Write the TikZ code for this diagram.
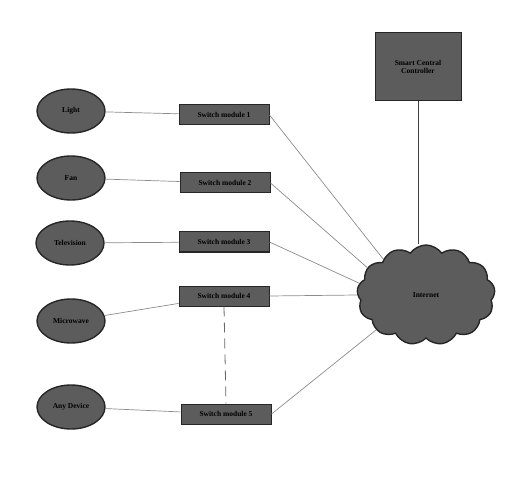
\documentclass[tikz,border=0pt]{standalone}
\usepackage{fontspec}
\setmainfont{Liberation Serif}
\usetikzlibrary{shapes.geometric,shapes.symbols}
\begin{document}
\begin{tikzpicture}[x=1pt,y=-1pt,
  dev/.style={ellipse,draw=black!85,line width=1.4pt,fill=black!64,minimum width=68pt,minimum height=44pt,inner sep=0pt,font=\fontsize{7.5}{8}\selectfont\bfseries},
  swbox/.style={rectangle,draw=black!85,line width=1pt,fill=black!64,minimum width=90pt,minimum height=20pt,inner sep=0pt,font=\fontsize{7.5}{8}\selectfont\bfseries},
  link/.style={draw=black!45,line width=0.7pt},
  dlink/.style={draw=black!60,line width=0.8pt,dash pattern=on 10pt off 6pt}]
\useasboundingbox (0,0) rectangle (528,484);
\node[dev] (light) at (71,111) {Light};
\node[dev] (fan) at (71,178) {Fan};
\node[dev] (tv) at (70,243) {Television};
\node[dev] (mw) at (71,321) {Microwave};
\node[dev] (any) at (71,407) {Any Device};
\node[swbox] (s1) at (224,115) {Switch module 1};
\node[swbox] (s2) at (225,183) {Switch module 2};
\node[swbox] (s3) at (224,242) {Switch module 3};
\node[swbox] (s4) at (224,296) {Switch module 4};
\node[swbox] (s5) at (226,414) {Switch module 5};
\node[rectangle,draw=black!85,line width=1pt,fill=black!64,minimum width=86pt,minimum height=68pt,inner sep=2pt,align=center,font=\fontsize{7.5}{8.5}\selectfont\bfseries] (ctrl) at (418,67) {Smart Central\\Controller};
\node[cloud,cloud puffs=13,cloud puff arc=110,aspect=1.45,draw=black!85,line width=1.4pt,fill=black!64,minimum width=138pt,minimum height=100pt,inner sep=0pt,font=\fontsize{7.5}{8}\selectfont\bfseries] (net) at (426,295) {Internet};
\draw[link] (light) -- (s1);
\draw[link] (fan) -- (s2);
\draw[link] (tv) -- (s3);
\draw[link] (mw) -- (s4);
\draw[link] (any) -- (s5);
\draw[link] (s1.east) -- (net.140);
\draw[link] (s2.east) -- (net.155);
\draw[link] (s3.east) -- (net.170);
\draw[link] (s4.east) -- (net.180);
\draw[link] (s5.east) -- (net.215);
\draw[link,draw=black!75] (ctrl.south) -- (net.north -| ctrl.south);
\draw[dlink] (s4.south) -- (s5.north);
\end{tikzpicture}
\end{document}
